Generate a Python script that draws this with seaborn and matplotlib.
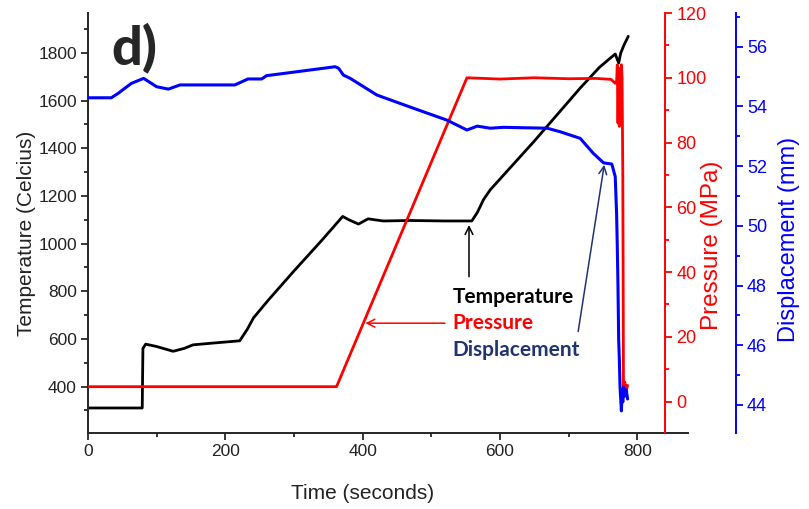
import numpy as np
import pandas as pd
import matplotlib
matplotlib.use("Agg")
import matplotlib.pyplot as plt
from matplotlib.ticker import MultipleLocator
import seaborn as sns

# values
temp_t = [0, 79, 80, 84, 100, 124, 140, 153, 180, 221, 232, 241, 263, 300, 340, 371,
          380, 394, 408, 430, 470, 520, 559, 567, 576, 586, 650, 717, 745, 768, 773,
          776, 781, 787]
temp_c = [310, 310, 560, 578, 568, 548, 560, 575, 582, 592, 640, 688, 764, 885, 1012, 1114,
          1100, 1082, 1104, 1095, 1097, 1095, 1095, 1130, 1184, 1226, 1430, 1653, 1740, 1796, 1758,
          1800, 1835, 1870]

pres_t = [0, 362, 552, 600, 650, 700, 740, 762, 768, 770, 771, 772, 773, 774, 775, 776,
          777, 778, 779, 779.5, 780, 782, 784, 786]
pres_mpa = [4.6, 4.6, 100, 99.6, 100, 99.7, 99.8, 99.5, 98.3, 99, 104, 86, 103, 85, 102, 88,
            104, 100, 71, 40, 4, 6, 3.5, 5]

disp_t = [0, 34, 44, 63, 81, 100, 117, 134, 214, 233, 253, 260, 300, 340, 360, 365, 372,
          382, 421, 474, 523, 552, 567, 586, 605, 669, 688, 717, 736, 751, 763, 768, 770,
          771, 772, 773, 774, 775, 777, 778, 779, 780, 782, 784, 786]
disp_mm = [54.29, 54.29, 54.44, 54.77, 54.94, 54.66, 54.58, 54.72, 54.72, 54.92, 54.92, 55.03,
           55.15, 55.27, 55.33, 55.28, 55.05, 54.94, 54.38, 53.94, 53.54, 53.21, 53.34, 53.27,
           53.30, 53.27, 53.15, 52.93, 52.43, 52.11, 52.07, 51.65, 50.4, 49.3, 48.0, 46.2,
           45.5, 44.6, 43.8, 44.5, 44.1, 44.6, 44.3, 44.5, 44.2]

sns.set_style("ticks")
plt.rcParams["font.family"] = ["Liberation Sans", "DejaVu Sans"]
bold_font = ["Lato", "DejaVu Sans"]
navy = "#1f3470"

fig = plt.figure(figsize=(8.09, 5.09), dpi=100)
ax = fig.add_axes([88 / 809, 76 / 509, 600 / 809, 420 / 509])
ax_p = ax.twinx()
ax_d = ax.twinx()

sns.lineplot(x=temp_t, y=temp_c, ax=ax, color="black", lw=2, estimator=None, sort=False)
sns.lineplot(x=pres_t, y=pres_mpa, ax=ax_p, color="red", lw=2, estimator=None, sort=False)
sns.lineplot(x=disp_t, y=disp_mm, ax=ax_d, color="blue", lw=2.2, estimator=None, sort=False)

# temperature / time axes
ax.set_xlim(0, 874)
ax.set_ylim(205, 1968)
ax.set_xticks([0, 200, 400, 600, 800])
ax.set_yticks(range(400, 1801, 200))
ax.xaxis.set_minor_locator(MultipleLocator(100))
ax.yaxis.set_minor_locator(MultipleLocator(100))
ax.spines["top"].set_visible(False)
ax.spines["right"].set_visible(False)
for s in ["left", "bottom"]:
    ax.spines[s].set_linewidth(1.4)
ax.tick_params(which="major", length=5, width=1.3, labelsize=12.5, labelcolor="#222222", pad=3)
ax.tick_params(which="minor", length=3, width=1.3)
ax.set_xlabel("Time (seconds)", fontsize=15, color="#222222")
ax.xaxis.label.set_va("center")
ax.xaxis.set_label_coords(0.458, -0.143)
ax.set_ylabel("Temperature (Celcius)", fontsize=15, color="#222222")
ax.yaxis.label.set_va("center")
ax.yaxis.set_label_coords(-0.1017, 0.476)

# pressure axis
ax_p.set_ylim(-9.7, 120)
ax_p.set_yticks(range(0, 121, 20))
ax_p.yaxis.set_minor_locator(MultipleLocator(10))
ax_p.spines["right"].set_position(("axes", 0.9617))
ax_p.spines["right"].set_color("red")
ax_p.spines["right"].set_linewidth(1.4)
for s in ["top", "left", "bottom"]:
    ax_p.spines[s].set_visible(False)
ax_p.tick_params(axis="y", which="both", colors="red", width=1.3)
ax_p.tick_params(axis="y", which="major", length=5, labelsize=13, pad=3)
ax_p.tick_params(axis="y", which="minor", length=3)
ax_p.set_ylabel("Pressure (MPa)", fontsize=17.5, color="red")
ax_p.yaxis.label.set_va("center")
ax_p.yaxis.set_label_coords(1.04, 0.448)

# displacement axis
ax_d.set_ylim(43.06, 57.13)
ax_d.set_yticks(range(44, 57, 2))
ax_d.yaxis.set_minor_locator(MultipleLocator(1))
ax_d.spines["right"].set_position(("axes", 1.08))
ax_d.spines["right"].set_color("blue")
ax_d.spines["right"].set_linewidth(1.4)
for s in ["top", "left", "bottom"]:
    ax_d.spines[s].set_visible(False)
ax_d.tick_params(axis="y", which="both", colors="blue", width=1.3)
ax_d.tick_params(axis="y", which="major", length=5, labelsize=13, pad=3)
ax_d.tick_params(axis="y", which="minor", length=3)
ax_d.set_ylabel("Displacement (mm)", fontsize=17, color="blue")
ax_d.yaxis.label.set_va("center")
ax_d.yaxis.set_label_coords(1.168, 0.46)

# panel letter and in-plot legend
ax.text(0.077, 0.917, "d)", transform=ax.transAxes, fontsize=39, fontweight="black",
        family=bold_font, ha="center", va="center")
ax.text(0.608, 0.324, "Temperature", transform=ax.transAxes, fontsize=15,
        fontweight="bold", family=bold_font, color="black", va="center")
ax.text(0.608, 0.262, "Pressure", transform=ax.transAxes, fontsize=15,
        fontweight="bold", family=bold_font, color="red", va="center")
ax.text(0.608, 0.198, "Displacement", transform=ax.transAxes, fontsize=15,
        fontweight="bold", family=bold_font, color=navy, va="center")

arrow = dict(arrowstyle="->", lw=1.1, shrinkA=0, shrinkB=0, mutation_scale=14)
ax.annotate("", xy=(555, 1078), xytext=(555, 861), arrowprops=dict(arrow, color="black"))
ax.annotate("", xy=(404, 666), xytext=(520, 666), arrowprops=dict(arrow, color="red"))
ax.annotate("", xy=(752, 1331), xytext=(714, 631), arrowprops=dict(arrow, color=navy))

fig.savefig("out.png", dpi=100)
